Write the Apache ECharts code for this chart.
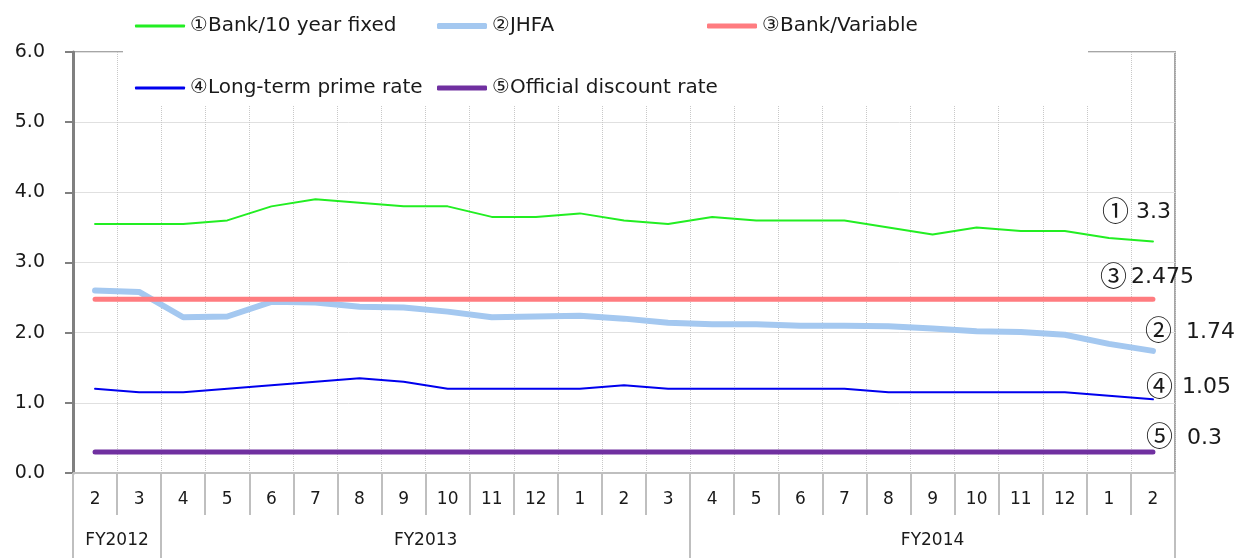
<!DOCTYPE html>
<html>
<head>
<meta charset="utf-8">
<script src="https://cdn.jsdelivr.net/npm/echarts@6/dist/echarts.min.js"></script>
<style>
html, body { margin: 0; padding: 0; background: #fff; }
#main { width: 1250px; height: 558px; }
</style>
</head>
<body>
<div id="main"></div>
<script>
// months, Feb 2013 .. Feb 2015
var months = ['2','3','4','5','6','7','8','9','10','11','12','1','2','3','4','5','6','7','8','9','10','11','12','1','2'];
var fiscalYears = ['FY2012', 'FY2013', 'FY2014'];
var fyCounts = [2, 12, 11];
var yTicks = [0, 1, 2, 3, 4, 5, 6];

var bankFixed = [3.55,3.55,3.55,3.6,3.8,3.9,3.85,3.8,3.8,3.65,3.65,3.7,3.6,3.55,3.65,3.6,3.6,3.6,3.5,3.4,3.5,3.45,3.45,3.35,3.3];
var jhfa = [2.6,2.58,2.22,2.23,2.44,2.43,2.37,2.36,2.3,2.22,2.23,2.24,2.2,2.14,2.12,2.12,2.1,2.1,2.09,2.06,2.02,2.01,1.97,1.84,1.74];
var bankVariable = [2.475,2.475,2.475,2.475,2.475,2.475,2.475,2.475,2.475,2.475,2.475,2.475,2.475,2.475,2.475,2.475,2.475,2.475,2.475,2.475,2.475,2.475,2.475,2.475,2.475];
var longPrime = [1.2,1.15,1.15,1.2,1.25,1.3,1.35,1.3,1.2,1.2,1.2,1.2,1.25,1.2,1.2,1.2,1.2,1.2,1.15,1.15,1.15,1.15,1.15,1.1,1.05];
var discount = [0.3,0.3,0.3,0.3,0.3,0.3,0.3,0.3,0.3,0.3,0.3,0.3,0.3,0.3,0.3,0.3,0.3,0.3,0.3,0.3,0.3,0.3,0.3,0.3,0.3];

var names = ['①Bank/10 year fixed', '②JHFA', '③Bank/Variable', '④Long-term prime rate', '⑤Official discount rate'];
var marks = ['①', '②', '③', '④', '⑤'];

// fiscal year boundaries and label centres on the secondary axis
var fyEdges = [0];
var fyCentres = [];
fyCounts.forEach(function (n, i) {
    fyCentres.push(fyEdges[i] + n / 2);
    fyEdges.push(fyEdges[i] + n);
});

var font = 'DejaVu Sans, Verdana, sans-serif';
var chart = echarts.init(document.getElementById('main'));

function legendAt(name, left, top, h) {
    return {
        data: [name],
        left: left,
        top: top,
        padding: 0,
        icon: 'roundRect',
        itemWidth: 50,
        itemHeight: h,
        itemGap: 5,
        textStyle: { fontSize: 20, color: '#1a1a1a', fontFamily: font },
        selectedMode: false,
        z: 10
    };
}

function lineSeries(idx, data, color, width, gap, offset) {
    return {
        name: names[idx],
        type: 'line',
        data: data,
        symbol: 'none',
        smooth: false,
        lineStyle: { color: color, width: width, cap: 'round' },
        itemStyle: { color: color },
        endLabel: {
            show: true,
            formatter: function (p) { return '{m|' + marks[idx] + '}{v|' + p.value + '}'; },
            offset: offset,
            color: '#1a1a1a',
            rich: {
                m: { fontSize: 27, fontFamily: 'Noto Sans CJK JP', color: '#1a1a1a', padding: [0, gap, 4, 0] },
                v: { fontSize: 22, fontFamily: font, color: '#1a1a1a' }
            }
        }
    };
}

var option = {
    animation: false,
    backgroundColor: '#fff',
    grid: {
        left: 73, right: 75, top: 52, bottom: 85,
        show: true,
        borderColor: '#a6a6a6',
        borderWidth: 2
    },
    graphic: [{
        type: 'rect',
        shape: { x: 123, y: 0, width: 965, height: 106 },
        style: { fill: '#fff' },
        z: 5
    }],
    legend: [
        legendAt(names[0], 135, 16, 3),
        legendAt(names[1], 437, 16, 6),
        legendAt(names[2], 707, 16, 5),
        legendAt(names[3], 135, 78, 3),
        legendAt(names[4], 437, 78, 5)
    ],
    xAxis: [{
        type: 'category',
        data: months,
        boundaryGap: true,
        axisLine: { lineStyle: { color: '#bfbfbf', width: 2 } },
        axisTick: { show: true, interval: 0, length: 42, lineStyle: { color: '#bfbfbf', width: 2 } },
        axisLabel: { interval: 0, fontSize: 17, color: '#1a1a1a', fontFamily: font, margin: 18 },
        splitLine: { show: true, interval: 0, lineStyle: { color: '#c8c8c8', type: 'dotted', width: 1 } }
    }, {
        type: 'value',
        position: 'bottom',
        min: 0,
        max: months.length,
        axisLine: { show: false },
        axisTick: { show: true, customValues: fyEdges, length: 85, lineStyle: { color: '#bfbfbf', width: 2 } },
        axisLabel: {
            customValues: fyCentres,
            fontSize: 17, color: '#1a1a1a', fontFamily: font, margin: 59,
            formatter: function (v) { return fiscalYears[fyCentres.indexOf(v)]; }
        },
        splitLine: { show: false }
    }],
    yAxis: {
        type: 'value',
        min: yTicks[0],
        max: yTicks[yTicks.length - 1],
        interval: 1,
        axisLine: { show: true, lineStyle: { color: '#808080', width: 3 } },
        axisTick: { show: true, length: 8, lineStyle: { color: '#808080', width: 2 } },
        axisLabel: {
            fontSize: 19, color: '#1a1a1a', fontFamily: font, margin: 28,
            formatter: function (v) { return v.toFixed(1); }
        },
        splitLine: { show: true, lineStyle: { color: '#e0e0e0', width: 1 } }
    },
    series: [
        lineSeries(0, bankFixed, '#22ee22', 2, 7, [-59, -29]),
        lineSeries(1, jhfa, '#a4c8f0', 6, 14, [-16, -19]),
        lineSeries(2, bankVariable, '#ff7c80', 5, 4, [-61, -22]),
        lineSeries(3, longPrime, '#0000ee', 2, 9, [-15, -12]),
        lineSeries(4, discount, '#7030a0', 5, 14, [-15, -14])
    ]
};
option && chart.setOption(option);
</script>
</body>
</html>
